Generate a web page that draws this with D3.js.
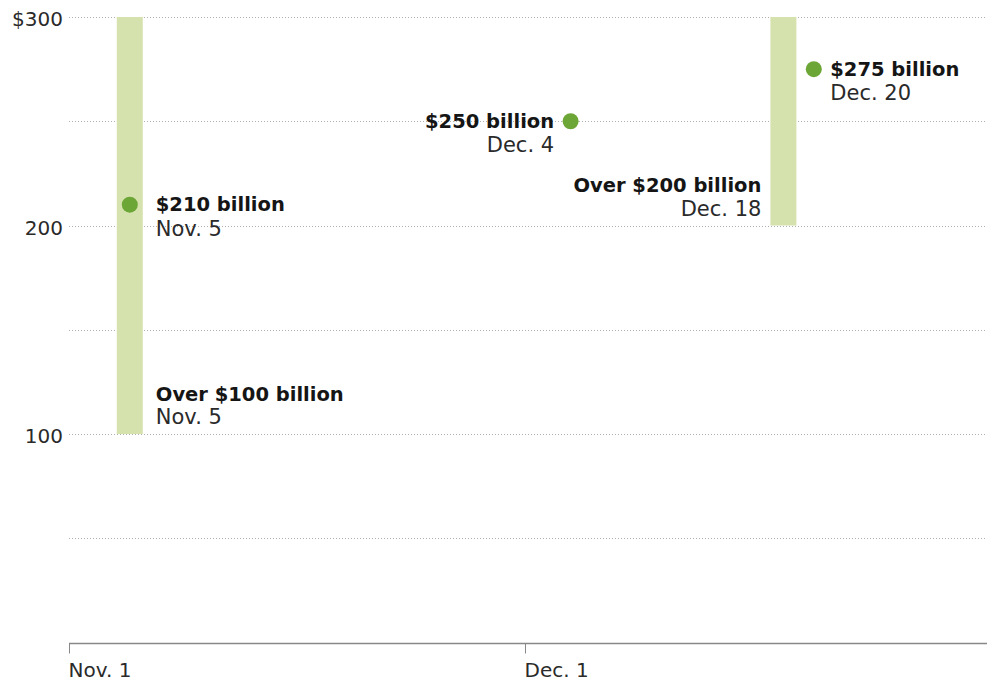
<!DOCTYPE html>
<html>
<head>
<meta charset="utf-8">
<script src="https://cdn.jsdelivr.net/npm/d3@7"></script>
<style>
  body { margin: 0; background: #fff; }
  svg { display: block; font-family: 'DejaVu Sans', sans-serif; }
</style>
</head>
<body>
<svg id="chart"></svg>
<script>
// data
const pointDates = ['2019-11-05', '2019-12-04', '2019-12-20']
const pointValues = [210, 250, 275]
const pointLabels = ['$210 billion', '$250 billion', '$275 billion']
const pointDateLabels = ['Nov. 5', 'Dec. 4', 'Dec. 20']

const rangeDates = ['2019-11-05', '2019-12-18']
const rangeLow = [100, 200]
const rangeHigh = [300, 300]
const rangeLabels = ['Over $100 billion', 'Over $200 billion']
const rangeDateLabels = ['Nov. 5', 'Dec. 18']

const gridValues = [50, 100, 150, 200, 250, 300]
const yTickValues = [100, 200, 300]
const yTickLabels = ['100', '200', '$300']
const xTickDates = ['2019-11-01', '2019-12-01']
const xTickLabels = ['Nov. 1', 'Dec. 1']

// which side each annotation sits on
const pointSide = ['right', 'left', 'right']
const rangeSide = ['right', 'left']

const width = 987
const height = 681
const margin = { top: 17, right: 6, bottom: 38, left: 69 }

const parseDate = d3.timeParse('%Y-%m-%d')

const svg = d3.select('#chart')
  .attr('width', width)
  .attr('height', height)

const x = d3.scaleTime()
  .domain([parseDate('2019-11-01'), parseDate('2019-12-31')])
  .range([margin.left, 981])

const y = d3.scaleLinear()
  .domain([0, 300])
  .range([height - margin.bottom - 0.5, margin.top])

const barWidth = 26
const dotR = 8

// gridlines
svg.append('g')
  .selectAll('line')
  .data(gridValues)
  .join('line')
    .attr('x1', margin.left)
    .attr('x2', width)
    .attr('y1', d => Math.round(y(d)) + 0.5)
    .attr('y2', d => Math.round(y(d)) + 0.5)
    .attr('stroke', '#b0b0b0')
    .attr('stroke-width', 1)
    .attr('stroke-dasharray', '1,2')

// y labels
svg.append('g')
  .selectAll('text')
  .data(yTickValues)
  .join('text')
    .attr('x', 63)
    .attr('y', d => y(d) + 2)
    .attr('dy', '0.35em')
    .attr('text-anchor', 'end')
    .attr('fill', '#2a2a2a')
    .style('font-size', '20px')
    .text((d, i) => yTickLabels[i])

// x axis
const xAxis = d3.axisBottom(x)
  .tickValues(xTickDates.map(parseDate))
  .tickFormat((d, i) => xTickLabels[i])
  .tickSize(10)
  .tickSizeOuter(0)

const gx = svg.append('g')
  .attr('transform', 'translate(0,' + (Math.round(y(0)) + 0.5) + ')')
  .call(xAxis)

gx.select('.domain')
  .attr('d', 'M' + margin.left + ',0H' + width)
  .attr('stroke', '#888')
  .attr('stroke-width', 1.5)
gx.selectAll('.tick line').attr('stroke', '#888')
gx.selectAll('.tick text')
  .attr('text-anchor', 'start')
  .attr('x', -1)
  .attr('y', 19)
  .attr('dy', '0.71em')
  .attr('fill', '#2a2a2a')
  .style('font-family', "'DejaVu Sans', sans-serif")
  .style('font-size', '20px')

// range bars
svg.append('g')
  .selectAll('rect')
  .data(rangeDates)
  .join('rect')
    .attr('x', d => x(parseDate(d)) - barWidth / 2)
    .attr('width', barWidth)
    .attr('y', (d, i) => y(rangeHigh[i]))
    .attr('height', (d, i) => y(rangeLow[i]) - y(rangeHigh[i]))
    .attr('fill', '#d6e2ad')

// points
svg.append('g')
  .selectAll('circle')
  .data(pointDates)
  .join('circle')
    .attr('cx', d => x(parseDate(d)))
    .attr('cy', (d, i) => y(pointValues[i]))
    .attr('r', dotR)
    .attr('fill', '#6ca637')

// is a point sitting on a range bar?
const onBar = d => rangeDates.indexOf(d) >= 0

// point annotations
const pLabels = svg.append('g')
  .selectAll('g')
  .data(pointDates)
  .join('g')
    .attr('transform', (d, i) => {
      const cx = x(parseDate(d))
      const off = onBar(d) ? barWidth / 2 + 13 : 16.5
      const tx = pointSide[i] === 'right' ? cx + off : cx - off
      return 'translate(' + tx + ',' + (y(pointValues[i]) + 6.5) + ')'
    })
    .attr('text-anchor', (d, i) => pointSide[i] === 'right' ? 'start' : 'end')

pLabels.append('text')
  .attr('fill', '#151515')
  .style('font-size', '19.5px')
  .style('font-weight', 'bold')
  .text((d, i) => pointLabels[i])

pLabels.append('text')
  .attr('y', 24.5)
  .attr('fill', '#2a2a2a')
  .style('font-size', '21px')
  .text((d, i) => pointDateLabels[i])

// range annotations, along the bottom of each bar
const rLabels = svg.append('g')
  .selectAll('g')
  .data(rangeDates)
  .join('g')
    .attr('transform', (d, i) => {
      const cx = x(parseDate(d))
      const tx = rangeSide[i] === 'right' ? cx + barWidth / 2 + 13 : cx - barWidth / 2 - 9
      return 'translate(' + tx + ',' + (y(rangeLow[i]) - 10) + ')'
    })
    .attr('text-anchor', (d, i) => rangeSide[i] === 'right' ? 'start' : 'end')

rLabels.append('text')
  .attr('y', -23.5)
  .attr('fill', '#151515')
  .style('font-size', '19.5px')
  .style('font-weight', 'bold')
  .text((d, i) => rangeLabels[i])

rLabels.append('text')
  .attr('fill', '#2a2a2a')
  .style('font-size', '21px')
  .text((d, i) => rangeDateLabels[i])
</script>
</body>
</html>
